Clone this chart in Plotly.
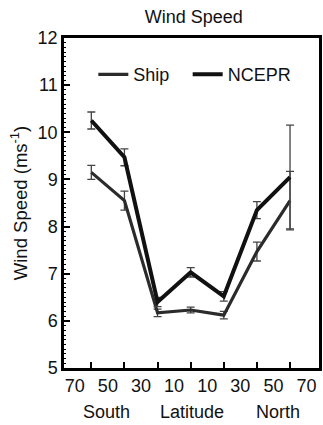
import plotly.graph_objects as go

lat = [-60, -40, -20, 0, 20, 40, 60]
ship = [9.15, 8.55, 6.17, 6.23, 6.12, 7.47, 8.55]
ship_err = [0.15, 0.2, 0.08, 0.06, 0.08, 0.2, 0.62]
ncepr = [10.25, 9.47, 6.40, 7.03, 6.52, 8.35, 9.05]
ncepr_err = [0.18, 0.18, 0.1, 0.1, 0.1, 0.18, 1.1]

xtick_vals = [-70, -50, -30, -10, 10, 30, 50, 70]
xtick_text = ["70", "50", "30", "10", "10", "30", "50", "70"]
xminor_vals = [-60, -40, -20, 0, 20, 40, 60]

FONT = "Liberation Sans, Arial, sans-serif"

fig = go.Figure()
fig.add_trace(go.Scatter(
    x=lat, y=ship, name="Ship", mode="lines", legend="legend",
    line=dict(color="#2b2b2b", width=3.2),
    error_y=dict(type="data", array=ship_err, color="#444444", thickness=1.3, width=4),
))
fig.add_trace(go.Scatter(
    x=lat, y=ncepr, name="NCEPR", mode="lines", legend="legend2",
    line=dict(color="#111111", width=4),
    error_y=dict(type="data", array=ncepr_err, color="#444444", thickness=1.3, width=4),
))

leg_common = dict(orientation="h", y=0.945, xanchor="left", yanchor="top",
                  bgcolor="rgba(0,0,0,0)", font=dict(size=18), itemwidth=30)

fig.update_layout(
    width=323, height=425,
    margin=dict(l=64, r=1, t=38, b=57),
    paper_bgcolor="white", plot_bgcolor="white",
    font=dict(family=FONT, size=18, color="#111111"),
    title=dict(text="Wind Speed", x=0.6, xanchor="center", y=0.975, yanchor="top",
               font=dict(size=18)),
    showlegend=True,
    legend=dict(x=0.115, **leg_common),
    legend2=dict(x=0.485, **leg_common),
    annotations=[
        dict(text="South", x=-51, xref="x", y=-0.098, yref="paper", showarrow=False,
             yanchor="top", font=dict(size=18)),
        dict(text="Latitude", x=1, xref="x", y=-0.098, yref="paper", showarrow=False,
             yanchor="top", font=dict(size=18)),
        dict(text="North", x=53, xref="x", y=-0.098, yref="paper", showarrow=False,
             yanchor="top", font=dict(size=18)),
    ],
)

fig.update_xaxes(
    range=[-76.5, 77.5], showgrid=False, zeroline=False,
    showline=True, linecolor="black", linewidth=2.5, mirror=True,
    tickmode="array", tickvals=xtick_vals, ticktext=xtick_text,
    ticks="", tickfont=dict(size=18),
    minor=dict(tickmode="array", tickvals=xminor_vals, ticks="inside",
               ticklen=6, tickwidth=1.5, tickcolor="black", showgrid=False),
)
fig.update_yaxes(
    range=[5, 12], showgrid=False, zeroline=False,
    showline=True, linecolor="black", linewidth=2.5, mirror=True,
    tickmode="linear", tick0=5, dtick=1, ticks="inside", ticklen=6,
    tickwidth=1.5, tickcolor="black", tickfont=dict(size=18),
    minor=dict(dtick=0.1, ticks="inside", ticklen=2, tickwidth=1,
               tickcolor="black", showgrid=False),
    title=dict(text="Wind Speed (ms<sup>-1</sup>)", font=dict(size=18.5), standoff=6),
)

fig.write_html("out.html")
